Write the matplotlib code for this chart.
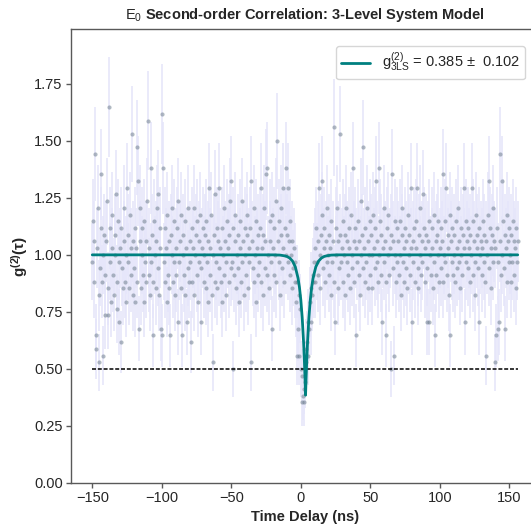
import numpy as np
import matplotlib
matplotlib.use('Agg')
import matplotlib.pyplot as plt
import seaborn as sns

# coincidence counts per 0.5 ns bin, starting at -150 ns
counts = [
    33, 39, 30, 36, 49, 22, 20, 35, 41, 28, 18, 32, 38, 46, 30, 19, 34, 37, 25, 31,
    36, 42, 29, 25, 56, 33, 38, 27, 35, 40, 31, 28, 37, 34, 43, 30, 26, 39, 33, 24,
    35, 21, 38, 32, 29, 41, 36, 30, 34, 27, 44, 33, 37, 29, 40, 31, 35, 52, 28, 36,
    32, 38, 27, 35, 50, 30, 45, 23, 36, 41, 29, 34, 38, 31, 27, 39, 33, 36, 30, 42,
    54, 31, 35, 28, 47, 33, 37, 30, 22, 39, 34, 29, 36, 41, 32, 43, 28, 35, 38, 23,
    55, 22, 47, 33, 30, 38, 35, 27, 40, 31, 36, 29, 22, 37, 34, 41, 30, 33, 39, 28,
    35, 31, 38, 42, 24, 33, 36, 29, 40, 22, 34, 37, 31, 28, 39, 35, 24, 32, 41, 30,
    36, 33, 21, 38, 30, 35, 41, 28, 34, 37, 31, 39, 27, 33, 36, 40, 32, 24, 35, 38,
    30, 34, 37, 29, 39, 33, 27, 36, 44, 31, 35, 40, 28, 18, 34, 37, 43, 30, 33, 38,
    29, 36, 32, 44, 35, 30, 38, 27, 34, 41, 31, 36, 33, 28, 39, 35, 30, 37, 42, 32,
    45, 33, 38, 17, 31, 36, 40, 29, 34, 37, 32, 27, 39, 35, 30, 42, 33, 36, 28, 38,
    34, 31, 37, 40, 29, 35, 33, 38, 45, 18, 36, 32, 41, 30, 34, 27, 39, 35, 31, 37,
    33, 38, 30, 44, 35, 28, 37, 41, 32, 36, 46, 31, 47, 34, 29, 39, 36, 33, 40, 23,
    35, 31, 38, 34, 42, 30, 51, 36, 33, 39, 28, 37, 41, 32, 44, 35, 30, 38, 47, 34,
    37, 33, 44, 36, 31, 39, 34, 29, 36, 32, 35, 30, 33, 27, 30, 19, 23, 19, 28, 26,
    17, 12, 16, 13, 12, 14, 15, 18, 20, 21, 19, 24, 23, 27, 24, 29, 28, 31, 30, 33,
    35, 30, 38, 33, 36, 31, 44, 34, 29, 37, 40, 45, 32, 35, 38, 30, 36, 33, 41, 34,
    31, 37, 35, 28, 39, 33, 36, 53, 30, 24, 38, 34, 41, 29, 36, 32, 37, 52, 33, 35,
    39, 30, 34, 37, 28, 41, 33, 36, 31, 38, 35, 29, 40, 34, 32, 47, 36, 30, 38, 22,
    35, 33, 39, 31, 36, 28, 42, 34, 37, 50, 32, 35, 30, 38, 33, 41, 29, 36, 34, 39,
    31, 37, 34, 29, 40, 35, 32, 38, 45, 33, 36, 30, 47, 34, 39, 31, 37, 24, 35, 41,
    33, 36, 30, 22, 38, 34, 40, 31, 35, 17, 37, 46, 32, 36, 19, 39, 34, 30, 38, 33,
    36, 31, 39, 34, 28, 37, 41, 33, 30, 35, 38, 32, 36, 29, 40, 34, 37, 31, 35, 44,
    24, 36, 33, 38, 30, 35, 39, 44, 32, 29, 37, 34, 41, 31, 36, 33, 43, 38, 30, 35,
    37, 32, 24, 36, 24, 39, 34, 31, 38, 35, 29, 40, 33, 22, 36, 31, 37, 34, 39, 30,
    35, 38, 32, 36, 46, 30, 34, 39, 33, 44, 31, 37, 35, 28, 40, 22, 36, 33, 38, 31,
    34, 37, 30, 39, 35, 32, 41, 33, 36, 29, 38, 34, 31, 37, 44, 35, 24, 33, 39, 36,
    32, 38, 35, 30, 37, 34, 44, 31, 39, 36, 33, 28, 40, 35, 37, 32, 24, 38, 34, 36,
    31, 35, 39, 33, 37, 30, 19, 36, 34, 40, 45, 32, 38, 35, 29, 37, 33, 41, 36, 18,
    35, 22, 38, 33, 23, 24, 49, 36, 31, 45, 34, 39, 32, 23, 37, 35, 40, 30, 36, 33,
    38, 34, 30, 37, 33, 39, 31, 36, 35, 29, 38, 33, 36,
]
norm_counts = 34.0
bin_start = -150.0
bin_width = 0.5

# fitted 3-level model curve
fit_tau = [-150, -20, -15, -12, -10, -8, -6, -4, -2, -1, 0, 1, 2, 2.5, 3, 3.4,
           3.8, 4.3, 4.8, 5.8, 6.8, 7.8, 8.8, 10.8, 12.8, 14.8, 16.8, 18.8, 21.8, 26.8, 156]
fit_g2 = [1.0, 1.0, 0.999, 0.996, 0.993, 0.986, 0.973, 0.948, 0.898, 0.858, 0.802, 0.724,
          0.614, 0.544, 0.462, 0.385, 0.462, 0.544, 0.614, 0.724, 0.802, 0.858, 0.898,
          0.948, 0.973, 0.986, 0.993, 0.996, 0.999, 1.0, 1.0]
fit_label = r'$\mathrm{g^{(2)}_{3LS}}$ = 0.385 ±  0.102'

counts = np.array(counts, dtype=float)
tau = bin_start + bin_width * np.arange(len(counts))
g2 = counts / norm_counts
g2_err = np.sqrt(counts) / norm_counts

sns.set_theme(style='ticks')
plt.rcParams['font.family'] = ['Liberation Sans', 'DejaVu Sans']
plt.rcParams['mathtext.fontset'] = 'custom'
plt.rcParams['mathtext.rm'] = 'Liberation Sans'
plt.rcParams['mathtext.it'] = 'Liberation Sans:italic'
plt.rcParams['mathtext.bf'] = 'Liberation Sans:bold'

fig = plt.figure(figsize=(5.31, 5.26), dpi=100)
ax = fig.add_axes([71 / 531, 1 - 483 / 526, (539 - 71) / 531, (483 - 29) / 526])

ax.errorbar(tau, g2, yerr=g2_err, fmt='none', ecolor='lavender', elinewidth=1.4, alpha=0.85, zorder=1)
ax.plot(tau, g2, 'o', color='slategray', markersize=3.0, alpha=0.55, markeredgewidth=0, zorder=2)
ax.plot(fit_tau, fit_g2, color='teal', lw=2, label=fit_label, zorder=4)
ax.hlines(0.5, tau[0], tau[-1], colors='black', linestyles=(0, (2.6, 1.2)), lw=1.1, zorder=3)

ax.set_xlim(-165.3, 171.3)
ax.set_ylim(0, 1.99)
ax.set_xticks([-150, -100, -50, 0, 50, 100, 150])
ax.tick_params(labelsize=10.5, length=3.5, width=1, pad=2.5, color='0.35')
for side in ['left', 'bottom', 'top', 'right']:
    ax.spines[side].set_linewidth(1)
    ax.spines[side].set_color('0.35')
ax.set_xlabel('Time Delay (ns)', fontsize=10.5, fontweight='bold', labelpad=3)
ax.set_ylabel(r'$\mathbf{g^{(2)}(\tau)}$', fontsize=11, labelpad=3)
ax.set_title(r'$\mathrm{E_0}$ Second-order Correlation: 3-Level System Model',
             fontsize=10.5, fontweight='bold', pad=7)
ax.legend(loc='upper right', fontsize=10.5, borderpad=0.35, borderaxespad=0,
          bbox_to_anchor=(525 / 531, 1 - 46 / 526), bbox_transform=fig.transFigure)

fig.savefig('out.png', dpi=100)
